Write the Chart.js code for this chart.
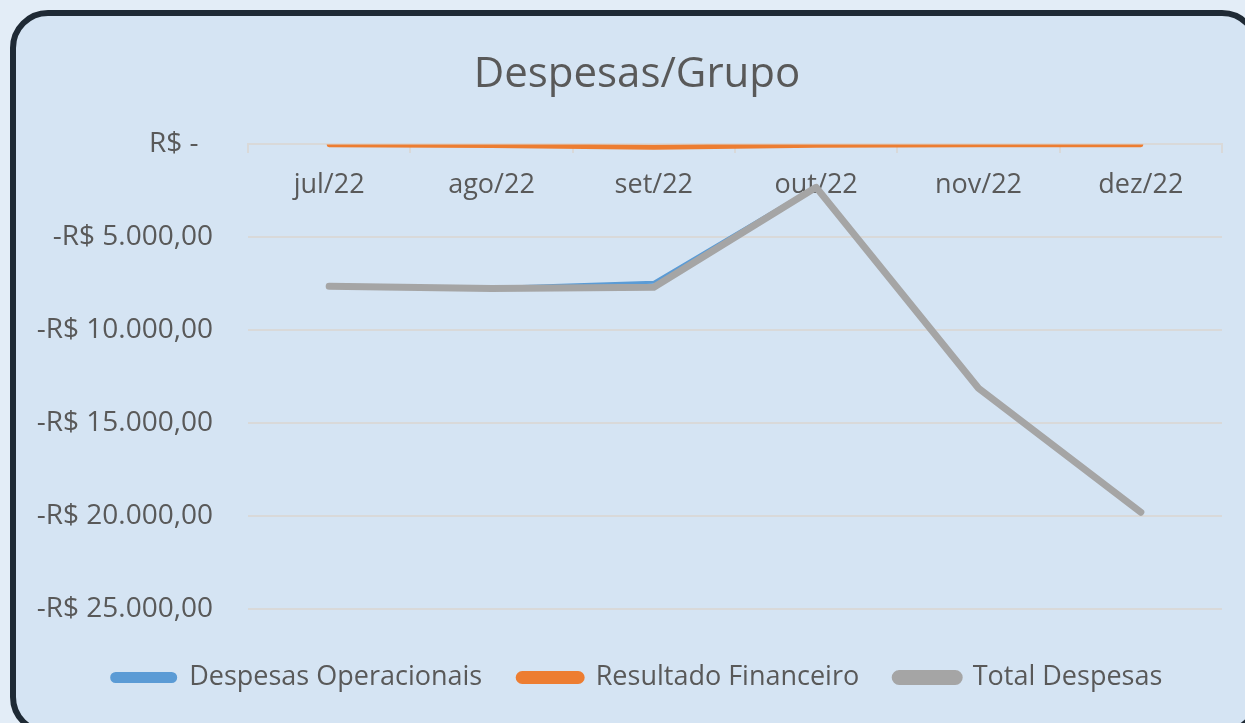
<!DOCTYPE html>
<html>
<head>
<meta charset="utf-8">
<script src="https://cdn.jsdelivr.net/npm/chart.js@4/dist/chart.umd.min.js"></script>
<style>
    html, body { margin: 0; padding: 0; width: 1245px; height: 723px; overflow: hidden; background: #e3edf7; }
    .card {
        position: absolute; left: 10px; top: 10px; width: 1250px; height: 725px;
        box-sizing: border-box; border: 6px solid #1f2a35; border-radius: 38px; background: #d5e4f3;
    }
    .wrap { position: absolute; left: 0; top: 0; width: 1274px; height: 723px; }
</style>
</head>
<body>
<div class="card"></div>
<div class="wrap"><canvas id="chart" width="1274" height="723"></canvas></div>
<script>
// --- Data ---
const months = ['jul/22', 'ago/22', 'set/22', 'out/22', 'nov/22', 'dez/22'];
const despesasOperacionais = [-7600, -7700, -7420, -2250, -13100, -19770];
const resultadoFinanceiro = [-20, -60, -150, -40, -20, -15];
const totalDespesas = [-7630, -7760, -7690, -2310, -13120, -19790];
const yTicks = [0, -5000, -10000, -15000, -20000, -25000];

const textColor = '#595959';
const gridColor = '#d9d9d9';
const fontFamily = '"Open Sans", sans-serif';

// Excel style accounting label
function formatBRL(value) {
    if (value === 0) return 'R$ -  ';
    const abs = Math.abs(value).toLocaleString('pt-BR', { minimumFractionDigits: 2, maximumFractionDigits: 2 });
    return (value < 0 ? '-' : '') + 'R$ ' + abs;
}

function lineDataset(label, data, color, width, order) {
    return {
        label: label,
        data: data,
        borderColor: color,
        backgroundColor: color,
        borderWidth: width,
        borderCapStyle: 'round',
        borderJoinStyle: 'round',
        pointRadius: 0,
        tension: 0,
        order: order
    };
}

const ctx = document.getElementById('chart');

new Chart(ctx, {
    type: 'line',
    data: {
        labels: months,
        datasets: [
            lineDataset('Despesas Operacionais', despesasOperacionais, '#5b9bd5', 3, 1),
            lineDataset('Resultado Financeiro', resultadoFinanceiro, '#ed7d31', 5, 2),
            lineDataset('Total Despesas', totalDespesas, '#a5a5a5', 7, 0)
        ]
    },
    options: {
        responsive: false,
        animation: false,
        layout: { padding: { left: 0, right: 0, top: 0, bottom: 22 } },
        plugins: {
            title: {
                display: true,
                text: 'Despesas/Grupo',
                color: textColor,
                font: { family: fontFamily, size: 42, weight: 'normal', lineHeight: 1.2 },
                padding: { top: 50, bottom: 44 }
            },
            legend: {
                position: 'bottom',
                title: { display: true, text: '', font: { size: 10, lineHeight: 1 }, padding: { top: 4, bottom: 5 } },
                labels: {
                    color: textColor,
                    font: { family: fontFamily, size: 27 },
                    boxWidth: 64,
                    boxHeight: 8,
                    useBorderRadius: true,
                    borderRadius: 4,
                    padding: 36,
                    sort: (a, b) => a.datasetIndex - b.datasetIndex
                }
            },
            tooltip: { enabled: false }
        },
        scales: {
            x: {
                position: { y: 0 },
                offset: true,
                grid: {
                    offset: true,
                    drawOnChartArea: false,
                    drawTicks: true,
                    tickLength: 8,
                    color: gridColor,
                    lineWidth: 2
                },
                border: { display: true, color: gridColor, width: 2 },
                ticks: {
                    color: textColor,
                    font: { family: fontFamily, size: 27 },
                    padding: 17,
                    maxRotation: 0
                }
            },
            y: {
                min: -25000,
                max: 0,
                afterFit: (scale) => { scale.width = 248; },
                afterBuildTicks: (scale) => { scale.ticks = yTicks.map(v => ({ value: v })); },
                grid: { color: gridColor, lineWidth: 2, drawTicks: false },
                border: { display: false },
                ticks: {
                    color: textColor,
                    font: { family: fontFamily, size: 28 },
                    padding: 35,
                    callback: (value) => formatBRL(value)
                }
            },
            // empty right axis, only keeps the plot off the right edge
            yRight: {
                position: 'right',
                afterFit: (scale) => { scale.width = 52; },
                grid: { display: false },
                border: { display: false },
                ticks: { display: false }
            }
        }
    }
});
</script>
</body>
</html>
